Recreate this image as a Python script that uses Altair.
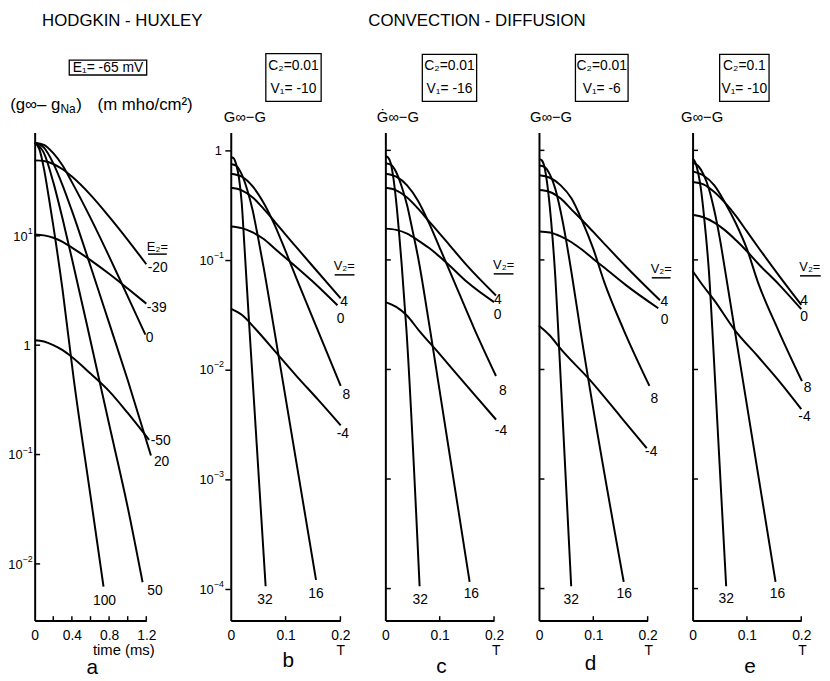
import numpy as np
import pandas as pd
import altair as alt

FONT = "Liberation Sans, Arial, DejaVu Sans, sans-serif"
H = 494          # plot height in px (all panels)
TOP = 130        # page y of the top of the plot areas

# ---------------- panel a : Hodgkin-Huxley, (g_inf - g_Na) vs time (ms) ----------------
a_series = ["-20", "-39", "0", "-50", "20", "50", "100"]
a_time = {
    "-20": [0, 0.1, 0.2, 0.3, 0.4, 0.6, 0.8, 1.0, 1.2],
    "-39": [0, 0.1, 0.2, 0.3, 0.4, 0.6, 0.8, 1.0, 1.2],
    "0":   [0, 0.1, 0.2, 0.3, 0.4, 0.6, 0.8, 1.0, 1.19],
    "-50": [0, 0.1, 0.2, 0.3, 0.4, 0.6, 0.8, 1.0, 1.23],
    "20":  [0, 0.1, 0.2, 0.3, 0.4, 0.6, 0.8, 1.0, 1.25],
    "50":  [0, 0.1, 0.2, 0.3, 0.4, 0.6, 0.8, 1.0, 1.16],
    "100": [0, 0.05, 0.1, 0.15, 0.2, 0.3, 0.42, 0.6, 0.74],
}
a_g = {
    "-20": [49, 48.3, 45.4, 40.6, 34.8, 23.7, 15.0, 9.2, 5.5],
    "-39": [10.3, 10.1, 9.6, 8.8, 7.8, 6.0, 4.5, 3.3, 2.4],
    "0":   [71, 68, 57, 44, 31, 14.6, 6.5, 2.8, 1.25],
    "-50": [1.11, 1.08, 1.0, 0.9, 0.78, 0.55, 0.38, 0.24, 0.136],
    "20":  [71, 64, 46, 29, 17, 5.3, 1.6, 0.48, 0.098],
    "50":  [71, 57, 31, 14.3, 6.2, 1.1, 0.19, 0.033, 0.0068],
    "100": [71, 62, 41, 23, 12.4, 3.2, 0.49, 0.042, 0.0062],
}

# ---------------- panels b-e : convection-diffusion, (G_inf - G) vs T ----------------
v_series = ["32", "16", "8", "4", "0", "-4"]

b_time = {
    "32": [0, 0.005, 0.01, 0.015, 0.02, 0.025, 0.0342, 0.0636],
    "16": [0, 0.01, 0.02, 0.03, 0.04, 0.05, 0.06, 0.08, 0.1555],
    "8":  [0, 0.02, 0.04, 0.06, 0.08, 0.1, 0.12, 0.1586, 0.2005],
    "4":  [0, 0.02, 0.04, 0.06, 0.08, 0.1, 0.12, 0.15, 0.2005],
    "0":  [0, 0.02, 0.04, 0.06, 0.08, 0.1045, 0.15, 0.1946],
    "-4": [0, 0.02, 0.0468, 0.08, 0.12, 0.16, 0.2005],
}
b_G = {
    "32": [0.865, 0.851, 0.741, 0.562, 0.331, 0.132, 0.0229, 1.05e-4],
    "16": [0.750, 0.724, 0.603, 0.437, 0.282, 0.158, 0.0851, 0.0219, 1.20e-4],
    "8":  [0.612, 0.575, 0.468, 0.331, 0.209, 0.120, 0.0676, 0.0229, 0.00708],
    "4":  [0.455, 0.432, 0.372, 0.292, 0.224, 0.170, 0.130, 0.0871, 0.0446],
    "0":  [0.202, 0.195, 0.178, 0.155, 0.127, 0.100, 0.0631, 0.0385],
    "-4": [0.036, 0.0316, 0.0229, 0.0148, 0.00871, 0.00525, 0.00309],
}

c_time = {
    "32": [0, 0.005, 0.01, 0.015, 0.02, 0.025, 0.03, 0.0388, 0.063],
    "16": [0, 0.01, 0.02, 0.03, 0.04, 0.05, 0.06, 0.0824, 0.1551],
    "8":  [0, 0.02, 0.04, 0.06, 0.08, 0.1, 0.12, 0.1647, 0.2036],
    "4":  [0, 0.02, 0.04, 0.06, 0.08, 0.1, 0.12, 0.15, 0.2036],
    "0":  [0, 0.02, 0.04, 0.06, 0.08, 0.1, 0.12, 0.15, 0.2],
    "-4": [0, 0.02, 0.04, 0.0612, 0.1, 0.15, 0.2036],
}
c_G = {
    "32": [0.883, 0.861, 0.759, 0.550, 0.339, 0.182, 0.0912, 0.0229, 1.05e-4],
    "16": [0.764, 0.741, 0.631, 0.468, 0.316, 0.186, 0.107, 0.0229, 1.15e-4],
    "8":  [0.612, 0.575, 0.479, 0.347, 0.219, 0.129, 0.0759, 0.0229, 0.00871],
    "4":  [0.455, 0.432, 0.372, 0.295, 0.226, 0.174, 0.133, 0.0891, 0.0474],
    "0":  [0.193, 0.188, 0.174, 0.151, 0.129, 0.107, 0.0871, 0.0631, 0.0412],
    "-4": [0.0412, 0.0372, 0.0309, 0.0229, 0.0138, 0.00708, 0.00349],
}

d_time = {
    "32": [0, 0.005, 0.01, 0.015, 0.02, 0.025, 0.03, 0.035, 0.0593],
    "16": [0, 0.01, 0.02, 0.03, 0.04, 0.05, 0.06, 0.0762, 0.156],
    "8":  [0, 0.02, 0.04, 0.06, 0.08, 0.1, 0.12, 0.156, 0.2033],
    "4":  [0, 0.02, 0.04, 0.06, 0.08, 0.1, 0.12, 0.16, 0.2227],
    "0":  [0, 0.02, 0.04, 0.06, 0.08, 0.1, 0.12, 0.16, 0.2196],
    "-4": [0, 0.02, 0.038, 0.0944, 0.15, 0.1984],
}
d_G = {
    "32": [0.836, 0.813, 0.708, 0.501, 0.302, 0.158, 0.0708, 0.0251, 1.05e-4],
    "16": [0.728, 0.708, 0.603, 0.447, 0.275, 0.151, 0.0759, 0.0229, 1.15e-4],
    "8":  [0.592, 0.562, 0.479, 0.363, 0.224, 0.126, 0.0631, 0.0229, 0.00708],
    "4":  [0.434, 0.417, 0.363, 0.288, 0.229, 0.180, 0.141, 0.0871, 0.0428],
    "0":  [0.182, 0.178, 0.164, 0.145, 0.123, 0.102, 0.0851, 0.0589, 0.0362],
    "-4": [0.0251, 0.0204, 0.0158, 0.00794, 0.00372, 0.00191],
}

e_time = {
    "32": [0, 0.005, 0.01, 0.015, 0.02, 0.025, 0.03, 0.0364, 0.0618],
    "16": [0, 0.01, 0.02, 0.03, 0.04, 0.05, 0.06, 0.0776, 0.1527],
    "8":  [0, 0.02, 0.04, 0.06, 0.08, 0.1, 0.12, 0.1576, 0.2013],
    "4":  [0, 0.02, 0.04, 0.06, 0.08, 0.1, 0.12, 0.16, 0.2],
    "0":  [0, 0.02, 0.04, 0.06, 0.08, 0.1, 0.12, 0.16, 0.2],
    "-4": [0, 0.02, 0.04, 0.0776, 0.12, 0.16, 0.2],
}
e_G = {
    "32": [0.836, 0.776, 0.631, 0.457, 0.282, 0.158, 0.0794, 0.0229, 1.05e-4],
    "16": [0.769, 0.724, 0.603, 0.447, 0.282, 0.158, 0.0794, 0.0229, 1.15e-4],
    "8":  [0.643, 0.589, 0.479, 0.331, 0.214, 0.126, 0.0631, 0.0229, 0.00782],
    "4":  [0.515, 0.490, 0.417, 0.331, 0.251, 0.182, 0.132, 0.0708, 0.0389],
    "0":  [0.258, 0.245, 0.219, 0.186, 0.151, 0.120, 0.0933, 0.0589, 0.0355],
    "-4": [0.0794, 0.0575, 0.0427, 0.0229, 0.0132, 0.00776, 0.00435],
}

# tick values and the exponent shown in each y tick label ("" = plain "1")
y_ticks = [1e-4, 1e-3, 1e-2, 1e-1, 1, 10]
y_exp = ["−4", "−3", "−2", "−1", "", "1"]

# ---------------- layout / style (pixels) ----------------
# label offsets from each curve's last point to the label centre (dx, dy)
a_off = {"-20": (11.5, 4), "-39": (10.5, 4.5), "0": (4.3, 3.5), "-50": (11.7, 0.7),
         "20": (10.8, 6.5), "50": (12.5, 9), "100": (1, 15)}
b_off = {"4": (3.5, 3.5), "0": (3.3, 13.5), "8": (5.7, 9), "-4": (2.2, 8.5),
         "32": (-0.6, 14), "16": (0, 14)}
c_off = {"4": (2, 4.5), "0": (3.7, 13.5), "8": (7, 15), "-4": (5, 12),
         "32": (0.6, 14), "16": (1.7, 12.5)}
d_off = {"4": (4.3, 1.5), "0": (6.5, 12), "8": (5, 13), "-4": (4.5, 3.5),
         "32": (0, 14), "16": (0.5, 12.5)}
e_off = {"4": (3, -3.5), "0": (3, 7.5), "8": (5.6, 7), "-4": (3.3, 7.6),
         "32": (0, 13), "16": (2, 12.5)}

XFMT = "datum.value == 0 ? '0' : format(datum.value, '.1f')"
AX = dict(title=None, grid=False, domainColor="black", domainWidth=2, labelColor="black",
          labelFont=FONT, labelFontSize=14, labelOverlap=False, labelFlush=False)


def make_panel(times, vals, series, offs, xmax, wr, wview, ydom, origin, ykind,
               xlab, xminor, texts, boxes, unders, anchor=False):
    lo, hi = np.log10(ydom[0]), np.log10(ydom[1])
    span = hi - lo

    def rx(X):  # page px -> data x
        return (X - origin) / wr * xmax

    def ry(Y):  # page px -> data y
        return 10 ** (hi - (Y - TOP) / H * span)

    def shift_y(v, dy):  # move a data y value by dy px (down positive)
        return v * 10 ** (-dy / H * span)

    xscale = alt.Scale(domain=[0, xmax], range=[0, wr], nice=False, zero=False)
    yscale = alt.Scale(type="log", domain=list(ydom), nice=False)
    xaxis = alt.Axis(values=xlab, labelExpr=XFMT, ticks=False, tickSize=0, labelPadding=8, **AX)
    ysel = [(v, e) for v, e in zip(y_ticks, y_exp) if ydom[0] < v < ydom[1]]
    yvals = [v for v, _ in ysel]
    if ykind == "b":
        yaxis = alt.Axis(values=yvals, labels=False, ticks=True, tickSize=6, tickWidth=1.5,
                         tickColor="black", **AX)
    else:
        yaxis = alt.Axis(values=yvals, labels=False, ticks=False, tickSize=0, **AX)

    X = lambda: alt.X("x:Q", scale=xscale, axis=xaxis)
    Y = lambda: alt.Y("y:Q", scale=yscale, axis=yaxis)

    rows = []
    for s in series:
        for t, v in zip(times[s], vals[s]):
            rows.append({"x": t, "y": v, "s": s})
    lines = alt.Chart(pd.DataFrame(rows)).mark_line(
        color="black", strokeWidth=2, interpolate="monotone"
    ).encode(x=X(), y=Y(), detail="s:N")

    lab = []
    for s in series:
        dx, dy = offs[s]
        lab.append({"x": times[s][-1] + dx / wr * xmax,
                    "y": shift_y(vals[s][-1], dy), "text": s})
    labels = alt.Chart(pd.DataFrame(lab)).mark_text(
        font=FONT, fontSize=14, color="black", align="center", baseline="middle"
    ).encode(x=X(), y=Y(), text="text:N")

    # tick marks drawn inward, underlines
    rr = []
    for v in yvals if ykind != "b" else []:
        rr.append({"x": 0, "x2": 5.5 / wr * xmax, "y": v, "y2": v})
    for t in xminor:
        rr.append({"x": t, "x2": t, "y": ydom[0], "y2": shift_y(ydom[0], -4.5)})
    for (x1, x2, yy) in unders:
        rr.append({"x": rx(x1), "x2": rx(x2), "y": ry(yy), "y2": ry(yy)})
    rules = alt.Chart(pd.DataFrame(rr)).mark_rule(color="black", strokeWidth=1.5).encode(
        x=X(), x2="x2:Q", y=Y(), y2="y2:Q")

    bx = [{"x": rx(b[0]), "x2": rx(b[2]), "y": ry(b[1]), "y2": ry(b[3])} for b in boxes]
    rects = alt.Chart(pd.DataFrame(bx)).mark_rect(
        fill="white", fillOpacity=0, stroke="black", strokeWidth=1.3
    ).encode(x=X(), x2="x2:Q", y=Y(), y2="y2:Q")

    layers = [lines, labels, rules, rects]

    # y tick labels "10" with a raised exponent
    if ykind in ("a", "b"):
        edge = -2 if ykind == "a" else -7
        base, sup = [], []
        for v, e in ysel:
            ew = 0.57 * 9 * len(e)
            if e:
                sup.append({"x": edge / wr * xmax, "y": shift_y(v, -5), "text": e})
                base.append({"x": (edge - ew) / wr * xmax, "y": shift_y(v, 1), "text": "10"})
            else:
                base.append({"x": (edge - 2) / wr * xmax, "y": shift_y(v, 1), "text": "1"})
        layers.append(alt.Chart(pd.DataFrame(base)).mark_text(
            font=FONT, fontSize=13, color="black", align="right", baseline="middle"
        ).encode(x=X(), y=Y(), text="text:N"))
        layers.append(alt.Chart(pd.DataFrame(sup)).mark_text(
            font=FONT, fontSize=9, color="black", align="right", baseline="middle"
        ).encode(x=X(), y=Y(), text="text:N"))

    groups = {}
    for (txt, Xp, Yp, fs, al, bl) in texts:
        groups.setdefault((al, bl), []).append({"x": rx(Xp), "y": ry(Yp), "text": txt, "fs": fs})
    for (al, bl), rows_t in groups.items():
        layers.append(alt.Chart(pd.DataFrame(rows_t)).mark_text(
            font=FONT, color="black", align=al, baseline=bl
        ).encode(x=X(), y=Y(), text="text:N", size=alt.Size("fs:Q", scale=None, legend=None)))
    if anchor:
        anc = pd.DataFrame([{"x": rx(8), "x2": rx(8), "y": ry(8), "y2": ry(9)}])
        layers.append(alt.Chart(anc).mark_rule(opacity=0, strokeOpacity=0).encode(
            x=X(), x2="x2:Q", y=Y(), y2="y2:Q"))
    return alt.layer(*layers).properties(width=wview, height=H)


YDOM_A = [0.003030, 87.9]
YDOM_B = [5.10e-5, 1.452]
SPACING = 45.5
ORIG = [33.3]
for w in [153, 111, 110, 110]:
    ORIG.append(ORIG[-1] + w + SPACING)

pa = make_panel(
    a_time, a_g, a_series, a_off, 1.2, 113, 153, YDOM_A, ORIG[0], "a",
    [0, 0.4, 0.8, 1.2], [0.2, 0.4, 0.6, 0.8, 1.0, 1.2],
    texts=[
        ("HODGKIN - HUXLEY", 122, 22.5, 17, "center", "alphabetic"),
        ("E₁= -65 mV", 107.5, 69, 14, "center", "alphabetic"),
        ("(g∞– g", 8.5, 107, 17, "left", "alphabetic"),
        ("Na", 59.5, 110, 12, "left", "alphabetic"),
        (")", 75.5, 107, 17, "left", "alphabetic"),
        ("(m mho/cm²)", 97, 107, 17, "left", "alphabetic"),
        ("E₂=", 157.5, 250, 13, "center", "alphabetic"),
        ("time (ms)", 123.5, 659, 15, "center", "alphabetic"),
        ("a", 91.5, 678, 21, "center", "alphabetic"),
    ],
    boxes=[(68.3, 56.7, 146.7, 71.7)],
    unders=[(148, 167, 253)],
    anchor=True,
)

def cd_texts(origin_box, c2, v1, gl, glx, v2x, v2y, tx, letter, lx, ly, extra=()):
    x1, y1, x2, y2 = origin_box
    cx = (x1 + x2) / 2
    return [
        (f"C₂={c2}", cx, 67, 14, "center", "alphabetic"),
        (f"V₁= {v1}", cx, 90, 14, "center", "alphabetic"),
        (gl, glx, 119, 15, "center", "alphabetic"),
        ("V₂=", v2x, v2y, 13, "center", "alphabetic"),
        ("T", tx, 659, 14, "center", "alphabetic"),
        (letter, lx, ly, 21, "center", "alphabetic"),
    ] + list(extra)

box_b = (267.3, 50, 323.3, 98.3)
box_c = (425.7, 50.7, 480.7, 98.3)
box_d = (580.7, 50.7, 634, 98.3)
box_e = (726.7, 50.7, 776.7, 98.3)

pb = make_panel(b_time, b_G, v_series, b_off, 0.2, 111, 111, YDOM_B, ORIG[1], "b",
                [0, 0.1, 0.2], [0.1, 0.2],
                texts=cd_texts(box_b, "0.01", "-10", "G∞−G", 246, 346.7, 269, 343, "b", 290, 671),
                boxes=[box_b], unders=[(337, 357, 274)])
pc = make_panel(c_time, c_G, v_series, c_off, 0.2, 110, 110, YDOM_B, ORIG[2], "c",
                [0, 0.1, 0.2], [0.1, 0.2],
                texts=cd_texts(box_c, "0.01", "-16", "Ġ∞−G", 401, 508, 268, 500.5, "c", 445, 677,
                               extra=[("CONVECTION - DIFFUSION", 481, 22.5, 17, "center", "alphabetic")]),
                boxes=[box_c], unders=[(498, 518, 273)])
pd_ = make_panel(d_time, d_G, v_series, d_off, 0.2, 110, 110, YDOM_B, ORIG[3], "c",
                 [0, 0.1, 0.2], [0.1, 0.2],
                 texts=cd_texts(box_d, "0.01", "-6", "G∞−G", 556, 667.5, 272, 655, "d", 596, 674),
                 boxes=[box_d], unders=[(658, 677, 277)])
pe = make_panel(e_time, e_G, v_series, e_off, 0.2, 110, 110, YDOM_B, ORIG[4], "c",
                [0, 0.1, 0.2], [0.1, 0.2],
                texts=cd_texts(box_e, "0.1", "-10", "G∞−G", 709, 818, 270, 810.5, "e", 757.5, 677),
                boxes=[box_e], unders=[(808, 829, 275)])

chart = alt.hconcat(pa, pb, pc, pd_, pe, spacing=SPACING, bounds="flush").properties(
    padding={"left": 0, "top": 0, "right": 0, "bottom": 0}, background="white"
).configure_view(stroke=None)

chart.save("out.html", embed_options={"renderer": "svg", "actions": False})
